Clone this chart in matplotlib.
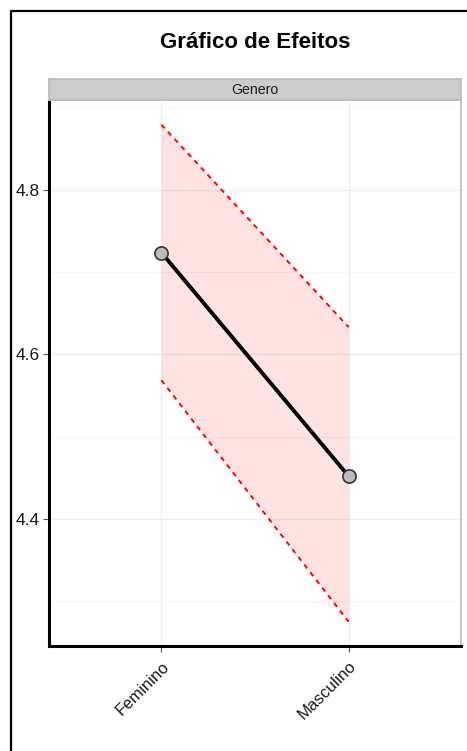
import matplotlib
matplotlib.use("Agg")
import matplotlib.pyplot as plt
from matplotlib.patches import Rectangle
import numpy as np

plt.rcParams['font.family'] = ['Liberation Sans', 'DejaVu Sans']

categories = ["Feminino", "Masculino"]
fit = [4.7236, 4.452]
lower = [4.5686, 4.275]
upper = [4.879, 4.633]
yticks = [4.4, 4.6, 4.8]
yminor = [4.3, 4.5, 4.7, 4.9]

W, H = 467, 751
fig = plt.figure(figsize=(W / 100, H / 100), dpi=100)

def fx(px):
    return px / W

def fy(py):
    return 1 - py / H

# outer frame (left and top visible)
fig.add_artist(Rectangle((fx(11), fy(800)), fx(600), fy(11) - fy(800),
                         transform=fig.transFigure, fill=False,
                         edgecolor='black', linewidth=1.6, clip_on=False))

left, right, top, bottom = 49, 461, 100, 646
ax = fig.add_axes([fx(left), fy(bottom), fx(right - left), fy(top) - fy(bottom)])

x = np.arange(1, len(categories) + 1)
ax.set_xlim(0.4, 2.6)
ax.set_ylim(4.2456, 4.909)

for v in yminor:
    ax.axhline(v, color='#F4F4F4', linewidth=0.6, zorder=0)
for v in yticks:
    ax.axhline(v, color='#EEEEEE', linewidth=0.9, zorder=0)
for xi in x:
    ax.axvline(xi, color='#EEEEEE', linewidth=0.9, zorder=0)

ax.fill_between(x, lower, upper, color='red', alpha=0.11, linewidth=0, zorder=1)
ax.plot(x, upper, color='red', linestyle=(0, (2.5, 2.5)), linewidth=1.4, zorder=2)
ax.plot(x, lower, color='red', linestyle=(0, (2.5, 2.5)), linewidth=1.4, zorder=2)
ax.plot(x, fit, color='black', linewidth=2.8, zorder=3)
ax.scatter(x, fit, s=90, facecolor='#BDBDBD', edgecolor='#333333', linewidth=1.2, zorder=4)

ax.set_xticks(x)
ax.set_xticklabels(categories, rotation=45, ha='right', rotation_mode='anchor',
                   fontsize=12, color='#1A1A1A')
ax.set_yticks(yticks)
ax.set_yticklabels([f"{v:.1f}" for v in yticks], fontsize=12.5, color='#1A1A1A')
ax.tick_params(axis='both', length=4, width=0.8, color='#555555', pad=3)
ax.tick_params(axis='x', pad=5)

for s in ['top', 'right']:
    ax.spines[s].set_color('#BBBBBB')
    ax.spines[s].set_linewidth(1.2)
for s in ['left', 'bottom']:
    ax.spines[s].set_color('black')
    ax.spines[s].set_linewidth(2.2)

# facet strip
sax = fig.add_axes([fx(left), fy(top), fx(right - left), fy(79) - fy(top)])
sax.set_facecolor('#CCCCCC')
sax.set_xticks([])
sax.set_yticks([])
for s in sax.spines.values():
    s.set_color('#BBBBBB')
    s.set_linewidth(1.2)
sax.text(0.5, 0.5, "Genero", ha='center', va='center', fontsize=10.2,
         color='#1A1A1A', transform=sax.transAxes)

fig.text(fx(255), fy(43), "Gráfico de Efeitos", ha='center', va='center',
         fontsize=16, fontweight='bold', color='black')

fig.savefig("out.png", dpi=100)
